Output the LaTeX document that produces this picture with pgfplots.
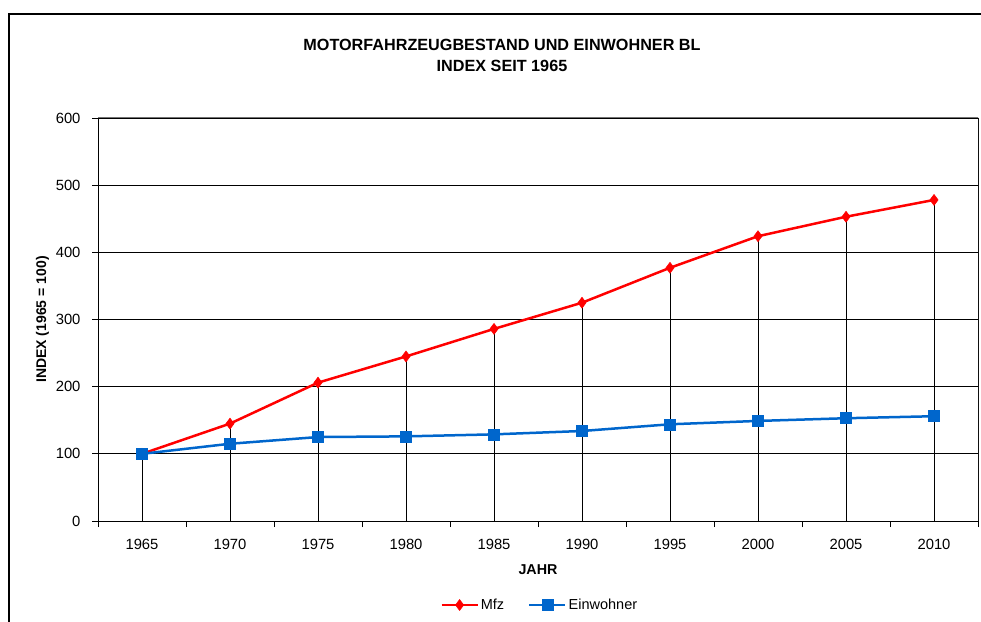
\documentclass[border=0pt]{standalone}
\usepackage{pgfplots}
\pgfplotsset{compat=1.18}
\usepackage{fontspec}
\setmainfont{Liberation Sans}
\definecolor{mfz}{HTML}{FF0000}
\definecolor{ew}{HTML}{0066CC}
\begin{document}
\begin{tikzpicture}[x=1pt,y=1pt]
\path[use as bounding box] (0,0) rectangle (981,621);
\draw[line width=2pt] (9,-5) -- (9,607) -- (990,607);
\node[font=\bfseries\fontsize{16.2}{19}\selectfont] at (502,576) {MOTORFAHRZEUGBESTAND UND EINWOHNER BL};
\node[font=\bfseries\fontsize{16.2}{19}\selectfont] at (502,555) {INDEX SEIT 1965};
\begin{axis}[
  at={(98pt,100pt)}, anchor=south west,
  scale only axis, width=880pt, height=403pt,
  xmin=-0.5, xmax=9.5, ymin=0, ymax=600,
  xtick={0,...,9},
  xticklabels={1965,1970,1975,1980,1985,1990,1995,2000,2005,2010},
  major x tick style={draw=none},
  minor xtick={-0.5,0.5,...,9.5},
  minor tick length=6pt,
  ytick={0,100,...,600},
  major tick length=6pt,
  tick align=outside,
  xtick pos=bottom, ytick pos=left,
  ymajorgrids, grid style={black, line width=0.8pt},
  axis line style={line width=0.9pt},
  tick style={black, line width=0.8pt},
  ticklabel style={font=\fontsize{14.8}{17}\selectfont},
  /pgf/number format/assume math mode=true,
  xticklabel style={yshift=-9pt},
  yticklabel style={xshift=-8pt},
  xlabel={\bfseries JAHR}, xlabel style={font=\fontsize{14.3}{17}\selectfont, yshift=-8pt},
  ylabel={\bfseries INDEX (1965 = 100)}, ylabel style={font=\fontsize{14}{17}\selectfont, yshift=0pt},
  legend style={at={(0.502,-0.2084)}, anchor=center, draw=none, fill=none,
    font=\fontsize{14.5}{17}\selectfont, legend columns=2,
    /tikz/every even column/.append style={column sep=22pt}},
  legend image code/.code={%
    \draw[#1, mark=none] (0pt,0pt) -- (36pt,0pt);
    \draw[#1, only marks] plot coordinates {(18pt,0pt)};},
]
\addplot[ycomb, black, line width=0.9pt, mark=none, forget plot] coordinates {
(0,100) (1,145) (2,206) (3,245) (4,286) (5,325) (6,377) (7,424) (8,453) (9,478)};
\addplot[mfz, line width=2.5pt, mark=diamond*, mark size=5.5pt, mark options={solid, fill=mfz, line width=0.5pt}] coordinates {
(0,100) (1,145) (2,206) (3,245) (4,286) (5,325) (6,377) (7,424) (8,453) (9,478)};
\addlegendentry{Mfz}
\addplot[ew, line width=2.5pt, mark=square*, mark size=5.5pt, mark options={solid, fill=ew, line width=0.5pt}] coordinates {
(0,100) (1,115) (2,125) (3,126) (4,129) (5,134) (6,144) (7,149) (8,153) (9,156)};
\addlegendentry{Einwohner}
\draw[black!55, line width=1pt] (rel axis cs:0,1) -- (rel axis cs:1,1) -- (rel axis cs:1,0);
\end{axis}
\end{tikzpicture}
\end{document}
